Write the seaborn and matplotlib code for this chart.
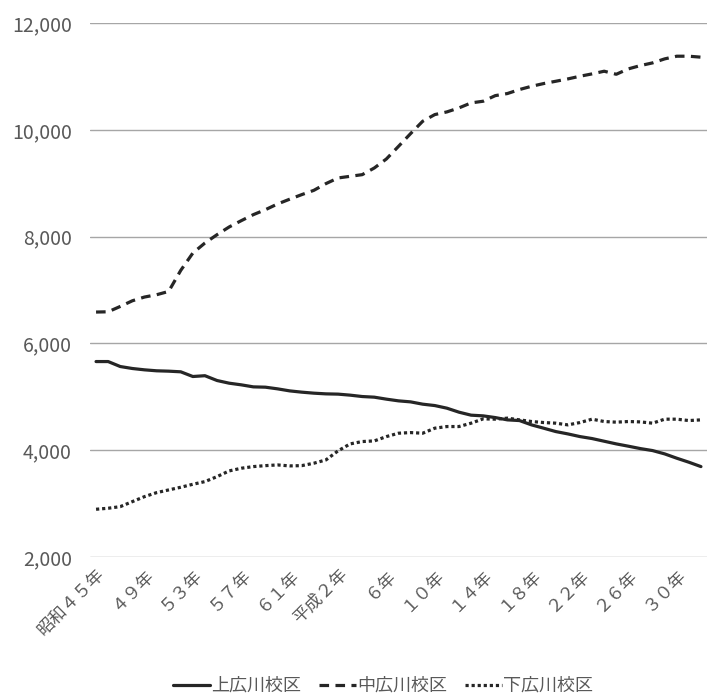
import matplotlib
matplotlib.use("Agg")
import matplotlib.pyplot as plt
import matplotlib.ticker as mticker
import numpy as np
import pandas as pd
import seaborn as sns

# 昭和45年 (1970) から令和2年 (2020) までの各校区の人口
years = list(range(1970, 2021))

kami = [5660, 5660, 5567, 5530, 5505, 5487, 5480, 5468, 5380, 5395,
        5305, 5255, 5224, 5186, 5180, 5149, 5111, 5087, 5068, 5055,
        5050, 5031, 5005, 4993, 4956, 4924, 4905, 4862, 4836, 4787,
        4712, 4656, 4643, 4611, 4568, 4555, 4474, 4412, 4349, 4305,
        4255, 4218, 4168, 4118, 4075, 4030, 3993, 3931, 3850, 3775,
        3693]

naka = [6587, 6592, 6692, 6798, 6868, 6911, 6973, 7367, 7692, 7880,
        8036, 8180, 8298, 8411, 8504, 8611, 8700, 8786, 8866, 8992,
        9098, 9129, 9160, 9285, 9454, 9690, 9929, 10160, 10285, 10335,
        10410, 10504, 10535, 10640, 10679, 10754, 10815, 10866, 10909, 10953,
        11003, 11047, 11097, 11040, 11141, 11203, 11253, 11328, 11378, 11378,
        11360]

shimo = [2894, 2913, 2943, 3037, 3130, 3205, 3256, 3306, 3362, 3412,
         3505, 3612, 3662, 3693, 3711, 3724, 3706, 3711, 3756, 3818,
         3987, 4118, 4162, 4174, 4255, 4318, 4330, 4318, 4412, 4443,
         4443, 4506, 4587, 4581, 4600, 4568, 4537, 4518, 4506, 4474,
         4518, 4581, 4537, 4525, 4537, 4530, 4506, 4581, 4581, 4555,
         4568]

series_names = ["上広川校区", "中広川校区", "下広川校区"]

tick_labels = ["昭和４５年", "４９年", "５３年", "５７年", "６１年", "平成２年",
               "６年", "１０年", "１４年", "１８年", "２２年", "２６年", "３０年"]

sns.set_theme(style="white")
plt.rcParams["font.family"] = ["Noto Sans CJK JP", "DejaVu Sans"]

idx = np.arange(len(years))
df = pd.DataFrame({
    "idx": np.concatenate([idx, idx, idx]),
    "value": kami + naka + shimo,
    "series": np.repeat(series_names, len(years)),
})

fig = plt.figure(figsize=(7.22, 6.96), dpi=100)
ax = fig.add_axes([90 / 722, 1 - 557 / 696, (707 - 90) / 722, (557 - 23) / 696])

line_color = "#262626"
sns.lineplot(data=df, x="idx", y="value", style="series",
             style_order=series_names,
             dashes={"上広川校区": "", "中広川校区": (3, 2), "下広川校区": (1, 0.9)},
             color=line_color, linewidth=2.3, ax=ax, legend=True)

ax.set_xlim(-0.5, len(years) - 0.5)
ax.set_ylim(2000, 12000)
ax.yaxis.set_major_locator(mticker.MultipleLocator(2000))
ax.yaxis.set_major_formatter(mticker.FuncFormatter(lambda v, p: f"{int(v):,}"))
ax.grid(axis="y", color="#a6a6a6", linewidth=1)
ax.grid(axis="x", visible=False)
for s in ax.spines.values():
    s.set_visible(False)

ax.set_xticks(idx[::4])
ax.set_xticklabels(tick_labels, rotation=45, ha="right", rotation_mode="anchor",
                   fontsize=12.5, color="#595959")
ax.tick_params(axis="y", labelsize=14, labelcolor="#595959", length=0, pad=13)
ax.tick_params(axis="x", length=0, pad=6)
ax.set_xlabel("")
ax.set_ylabel("")

handles, labels = ax.get_legend_handles_labels()
ax.get_legend().remove()
fig.legend(handles, labels, loc="center", bbox_to_anchor=(0.531, 0.0144),
           ncol=3, frameon=False, fontsize=13, labelcolor="#595959",
           handlelength=2.0, handletextpad=0.1, columnspacing=1.0)

fig.savefig("out.png", dpi=100, facecolor="white")
